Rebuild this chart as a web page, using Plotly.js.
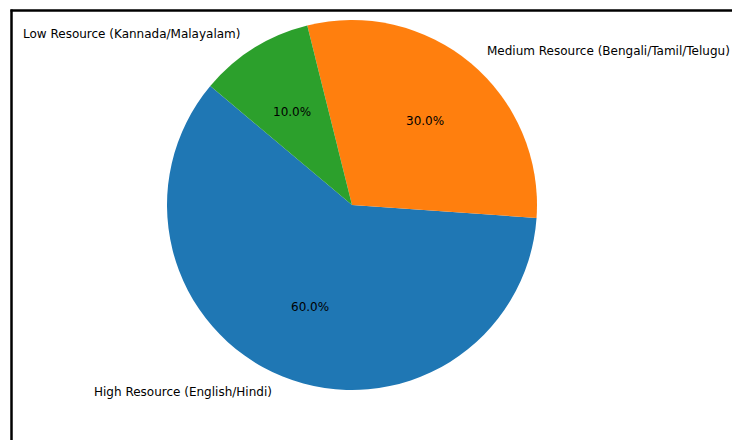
<!DOCTYPE html>
<html>
<head>
<meta charset="utf-8">
<script src="https://cdn.plot.ly/plotly-3.0.1.min.js"></script>
<style>html,body{margin:0;padding:0;background:#fff;}#chart{width:732px;height:440px;}</style>
</head>
<body>
<div id="chart"></div>
<script>
// Data
const labels = ["High Resource (English/Hindi)", "Medium Resource (Bengali/Tamil/Telugu)", "Low Resource (Kannada/Malayalam)"];
const values = [60, 30, 10];
const colors = ["#1f77b4", "#ff7f0e", "#2ca02c"];

// Layout constants (pixels)
const W = 732, H = 440;
const startAngle = 140;          // matplotlib-style start angle (deg, CCW from 3 o'clock)
const cx = 352, cy = 205;        // pie centre
const R = 185;                   // pie radius
const rx = 189, ry = 183;        // text placement radii
const fontFam = "DejaVu Sans, sans-serif";
const fs = 12;

const total = values.reduce((a, b) => a + b, 0);
const rotation = ((90 - startAngle - 360 * values[0] / total) % 360 + 360) % 360;

const px = x => x / W;
const py = y => 1 - y / H;

const annotations = [];
let a0 = startAngle;
values.forEach((v, i) => {
  const span = 360 * v / total;
  const mid = (a0 + span / 2) * Math.PI / 180;
  const c = Math.cos(mid), s = Math.sin(mid);
  annotations.push({
    xref: "paper", yref: "paper",
    x: px(cx + 1.1 * rx * c - (c > 0 ? 1 : 0)), y: py(cy - 1.1 * ry * s),
    text: labels[i], showarrow: false,
    xanchor: c > 0 ? "left" : "right", yanchor: "middle",
    font: {family: fontFam, size: fs, color: "#000"}
  });
  annotations.push({
    xref: "paper", yref: "paper",
    x: px(cx + 0.6 * rx * c), y: py(cy - 0.6 * ry * s),
    text: (100 * v / total).toFixed(1) + "%", showarrow: false,
    xanchor: "center", yanchor: "middle",
    font: {family: fontFam, size: fs, color: "#000"}
  });
  a0 += span;
});

const trace = {
  type: "pie",
  labels: labels,
  values: values,
  sort: false,
  direction: "counterclockwise",
  rotation: rotation,
  marker: {colors: colors, line: {width: 0}},
  textinfo: "none",
  hoverinfo: "none",
  showlegend: false,
  domain: {x: [px(cx - R), px(cx + R)], y: [py(cy + R), py(cy - R)]}
};

const layout = {
  width: W, height: H,
  margin: {l: 0, r: 0, t: 0, b: 0},
  paper_bgcolor: "#fff",
  showlegend: false,
  annotations: annotations,
  shapes: [
    {type: "line", xref: "paper", yref: "paper",
     x0: px(10.5), x1: px(W + 20), y0: py(10.5), y1: py(10.5),
     line: {color: "#000", width: 2.5}},
    {type: "line", xref: "paper", yref: "paper",
     x0: px(11.5), x1: px(11.5), y0: py(9.5), y1: py(H + 20),
     line: {color: "#000", width: 2.5}}
  ]
};

Plotly.newPlot("chart", [trace], layout, {displayModeBar: false, staticPlot: true});
</script>
</body>
</html>
